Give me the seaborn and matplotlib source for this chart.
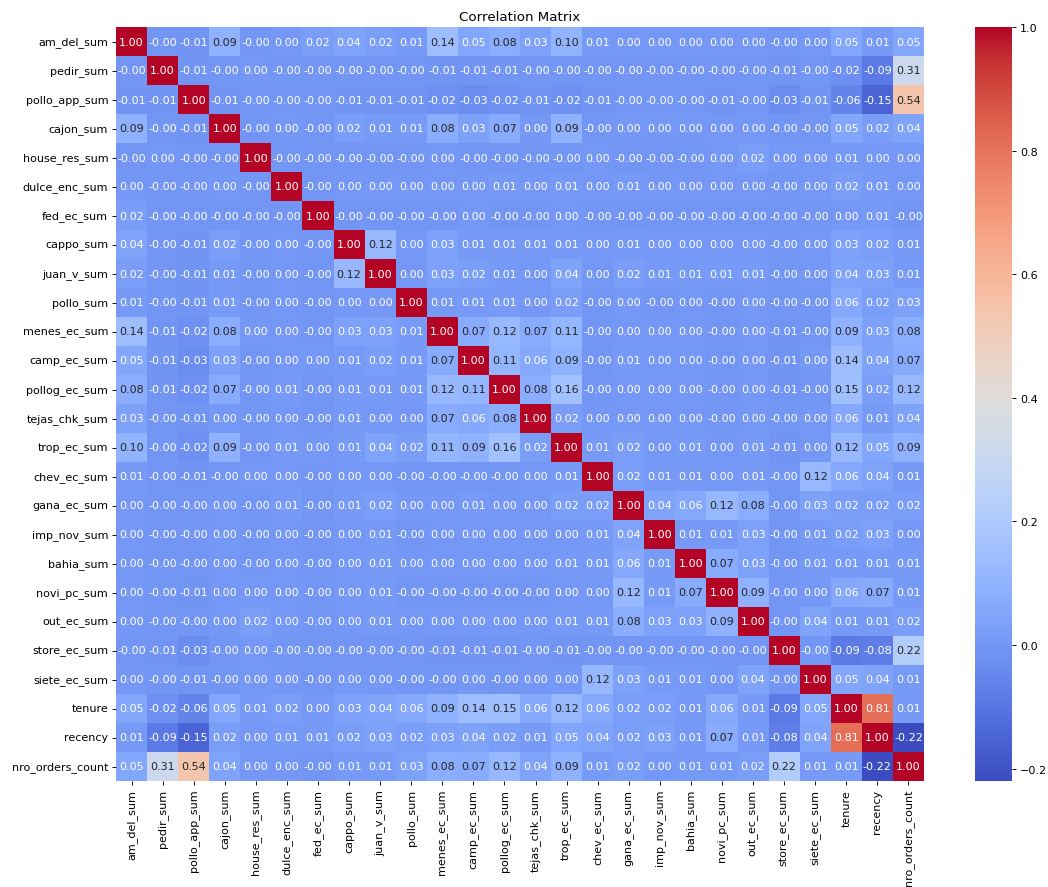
import numpy as np
import pandas as pd
import matplotlib
matplotlib.use("Agg")
import matplotlib.pyplot as plt
import seaborn as sns

features = [
    "am_del_sum", "pedir_sum", "pollo_app_sum", "cajon_sum", "house_res_sum",
    "dulce_enc_sum", "fed_ec_sum", "cappo_sum", "juan_v_sum", "pollo_sum",
    "menes_ec_sum", "camp_ec_sum", "pollog_ec_sum", "tejas_chk_sum", "trop_ec_sum",
    "chev_ec_sum", "gana_ec_sum", "imp_nov_sum", "bahia_sum", "novi_pc_sum",
    "out_ec_sum", "store_ec_sum", "siete_ec_sum", "tenure", "recency",
    "nro_orders_count",
]

# Lower-triangle correlations: each row holds r(row, col) for the columns before it.
# Tiny negative correlations (shown as -0.00) are kept as -0.001.
n = -0.001
r_am_del_sum = []
r_pedir_sum = [n]
r_pollo_app_sum = [-0.01, -0.01]
r_cajon_sum = [0.09, n, -0.01]
r_house_res_sum = [n, 0.00, n, n]
r_dulce_enc_sum = [0.00, n, n, 0.00, n]
r_fed_ec_sum = [0.02, n, n, n, n, n]
r_cappo_sum = [0.04, n, -0.01, 0.02, n, 0.00, n]
r_juan_v_sum = [0.02, n, -0.01, 0.01, n, 0.00, n, 0.12]
r_pollo_sum = [0.01, n, -0.01, 0.01, n, 0.00, n, 0.00, 0.00]
r_menes_ec_sum = [0.14, -0.01, -0.02, 0.08, 0.00, 0.00, n, 0.03, 0.03, 0.01]
r_camp_ec_sum = [0.05, -0.01, -0.03, 0.03, n, 0.00, 0.00, 0.01, 0.02, 0.01, 0.07]
r_pollog_ec_sum = [0.08, -0.01, -0.02, 0.07, n, 0.01, n, 0.01, 0.01, 0.01, 0.12, 0.11]
r_tejas_chk_sum = [0.03, n, -0.01, 0.00, n, 0.00, n, 0.01, 0.00, 0.00, 0.07, 0.06, 0.08]
r_trop_ec_sum = [0.10, n, -0.02, 0.09, n, 0.01, 0.00, 0.01, 0.04, 0.02, 0.11, 0.09,
                 0.16, 0.02]
r_chev_ec_sum = [0.01, n, -0.01, n, 0.00, 0.00, n, 0.00, 0.00, n, n, n, n, 0.00, 0.01]
r_gana_ec_sum = [0.00, n, n, 0.00, n, 0.01, n, 0.01, 0.02, 0.00, 0.00, 0.01, 0.00,
                 0.00, 0.02, 0.02]
r_imp_nov_sum = [0.00, n, n, 0.00, n, 0.00, n, 0.00, 0.01, n, 0.00, 0.00, 0.00,
                 0.00, 0.00, 0.01, 0.04]
r_bahia_sum = [0.00, n, n, 0.00, n, 0.00, n, 0.00, 0.01, 0.00, 0.00, 0.00, 0.00,
               0.00, 0.01, 0.01, 0.06, 0.01]
r_novi_pc_sum = [0.00, n, -0.01, 0.00, 0.00, 0.00, n, 0.00, 0.01, n, n, n, n,
                 n, 0.00, 0.00, 0.12, 0.01, 0.07]
r_out_ec_sum = [0.00, n, n, 0.00, 0.02, 0.00, n, 0.00, 0.01, 0.00, 0.00, 0.00, 0.00,
                0.00, 0.01, 0.01, 0.08, 0.03, 0.03, 0.09]
r_store_ec_sum = [n, -0.01, -0.03, n, 0.00, n, n, n, n, n, -0.01, -0.01, -0.01,
                  n, -0.01, n, n, n, n, n, n]
r_siete_ec_sum = [0.00, n, -0.01, n, 0.00, 0.00, n, 0.00, 0.00, n, n, 0.00, n,
                  0.00, 0.00, 0.12, 0.03, 0.01, 0.01, 0.00, 0.04, n]
r_tenure = [0.05, -0.02, -0.06, 0.05, 0.01, 0.02, 0.00, 0.03, 0.04, 0.06, 0.09, 0.14,
            0.15, 0.06, 0.12, 0.06, 0.02, 0.02, 0.01, 0.06, 0.01, -0.09, 0.05]
r_recency = [0.01, -0.09, -0.15, 0.02, 0.00, 0.01, 0.01, 0.02, 0.03, 0.02, 0.03, 0.04,
             0.02, 0.01, 0.05, 0.04, 0.02, 0.03, 0.01, 0.07, 0.01, -0.08, 0.04, 0.81]
r_nro_orders_count = [0.05, 0.31, 0.54, 0.04, 0.00, 0.00, n, 0.01, 0.01, 0.03, 0.08,
                      0.07, 0.12, 0.04, 0.09, 0.01, 0.02, 0.00, 0.01, 0.01, 0.02, 0.22,
                      0.01, 0.01, -0.22]

lower_rows = [
    r_am_del_sum, r_pedir_sum, r_pollo_app_sum, r_cajon_sum, r_house_res_sum,
    r_dulce_enc_sum, r_fed_ec_sum, r_cappo_sum, r_juan_v_sum, r_pollo_sum,
    r_menes_ec_sum, r_camp_ec_sum, r_pollog_ec_sum, r_tejas_chk_sum, r_trop_ec_sum,
    r_chev_ec_sum, r_gana_ec_sum, r_imp_nov_sum, r_bahia_sum, r_novi_pc_sum,
    r_out_ec_sum, r_store_ec_sum, r_siete_ec_sum, r_tenure, r_recency,
    r_nro_orders_count,
]

# Build the full symmetric matrix with ones on the diagonal
size = len(features)
corr = np.eye(size)
for i, row in enumerate(lower_rows):
    for j, v in enumerate(row):
        corr[i, j] = v
        corr[j, i] = v
corr_df = pd.DataFrame(corr, index=features, columns=features)

W, H, DPI = 1048, 888, 80.6
fig = plt.figure(figsize=(W / DPI, H / DPI), dpi=DPI)
ax = fig.add_axes([116 / W, 1 - 782 / H, 808 / W, 754 / H])
cax = fig.add_axes([975 / W, 1 - 782 / H, 37 / W, 754 / H])

sns.heatmap(corr_df, annot=True, fmt=".2f", cmap="coolwarm", ax=ax, cbar_ax=cax)
ax.set_title("Correlation Matrix")

fig.savefig("out.png", dpi=DPI)
